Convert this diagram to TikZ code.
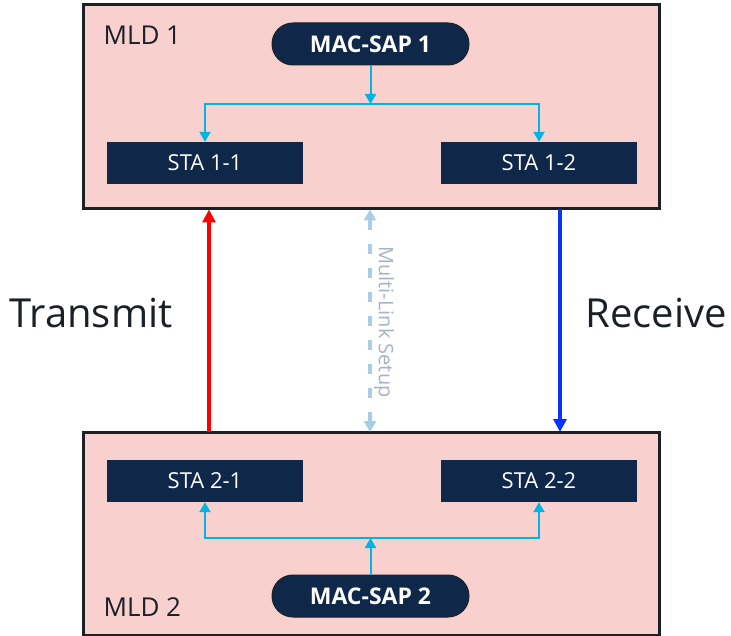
\documentclass[tikz,border=0pt]{standalone}
\usepackage{fontspec}
\setmainfont{Open Sans}
\usetikzlibrary{arrows.meta,shapes.misc}
\definecolor{mldfill}{HTML}{F8D1CF}
\definecolor{mldline}{HTML}{1B2027}
\definecolor{navy}{HTML}{0F2748}
\definecolor{cyanline}{HTML}{00B4E4}
\definecolor{txred}{HTML}{FF0000}
\definecolor{rxblue}{HTML}{0A32FF}
\definecolor{mlblue}{HTML}{A9CDE6}
\definecolor{mltext}{HTML}{A8B2C4}
\definecolor{labeltext}{HTML}{1B2027}
\tikzset{
  mldbox/.style={draw=mldline, line width=3pt, fill=mldfill, minimum width=576pt, inner sep=0pt},
  stabox/.style={draw=none, fill=navy, text=white, minimum width=196pt, minimum height=42pt, inner sep=0pt, font=\fontsize{22}{26}\selectfont},
  sapbox/.style={rounded rectangle, draw=mldline, line width=1pt, fill=navy, text=white, minimum width=197pt, minimum height=42pt, inner sep=0pt, font=\fontsize{23}{27}\selectfont\bfseries},
  feed/.style={draw=cyanline, line width=2pt, -{Triangle[width=11pt,length=10pt]}},
  mldlabel/.style={anchor=west, text=labeltext, font=\fontsize{26}{30}\selectfont},
  biglabel/.style={text=labeltext, font=\fontsize{40}{46}\selectfont},
}
\begin{document}
\begin{tikzpicture}[x=1pt,y=-1pt]
\useasboundingbox (0,0) rectangle (731,636);
\node[mldbox, minimum height=204pt] (mld1) at (371,107) {};
\node[mldbox, minimum height=203pt] (mld2) at (371,533.5) {};
\node[mldlabel] (l1) at (100,35) {MLD 1};
\node[mldlabel] (l2) at (100,607) {MLD 2};
\node[sapbox] (mac1) at (370.5,44) {MAC-SAP 1};
\node[sapbox] (mac2) at (370.5,596) {MAC-SAP 2};
\node[stabox] (sta11) at (205,163) {STA 1-1};
\node[stabox] (sta12) at (539,163) {STA 1-2};
\node[stabox] (sta21) at (205,481) {STA 2-1};
\node[stabox] (sta22) at (539,481) {STA 2-2};
\coordinate (j1) at (370.5,104);
\coordinate (j2) at (370.5,538);
\draw[feed] (mac1.south) -- (j1);
\draw[feed] (j1) -| (sta11.north);
\draw[feed] (j1) -| (sta12.north);
\draw[feed] (mac2.north) -- (j2);
\draw[feed] (j2) -| (sta21.south);
\draw[feed] (j2) -| (sta22.south);
% links
\coordinate (t1) at (209,209.5);
\coordinate (t2) at (209,432);
\coordinate (r1) at (560,209.5);
\coordinate (r2) at (560,432);
\coordinate (m1) at (370,209.5);
\coordinate (m2) at (370,432);
\draw[draw=txred, line width=4pt, -{Triangle[width=13pt,length=13pt]}] (t2) -- (t1);
\draw[draw=rxblue, line width=4pt, -{Triangle[width=13pt,length=13pt]}] (r1) -- (r2);
\draw[draw=mlblue, line width=4pt, dash pattern=on 10pt off 14pt, {Triangle[width=12pt,length=11pt]}-{Triangle[width=12pt,length=11pt]}] (m1) -- (m2);
\node[text=mltext, rotate=-90, font=\fontsize{20}{24}\selectfont] (mltxt) at (384,322) {Multi-Link Setup};
\node[biglabel] (tx) at (91,313) {Transmit};
\node[biglabel] (rx) at (656,313) {Receive};
\end{tikzpicture}
\end{document}
